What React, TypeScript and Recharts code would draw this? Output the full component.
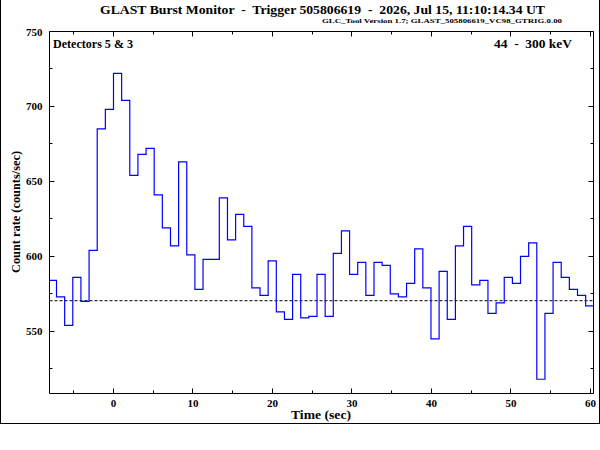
import React from "react";
import { Line, LineChart, ReferenceLine, XAxis, YAxis } from "recharts";

// bin edges in seconds (1.024 s bins), last one closes the final bin
const binEdges = [
  -8.192, -7.168, -6.144, -5.12, -4.096, -3.072, -2.048, -1.024, 0, 1.024,
  2.048, 3.072, 4.096, 5.12, 6.144, 7.168, 8.192, 9.216, 10.24, 11.264,
  12.288, 13.312, 14.336, 15.36, 16.384, 17.408, 18.432, 19.456, 20.48,
  21.504, 22.528, 23.552, 24.576, 25.6, 26.624, 27.648, 28.672, 29.696,
  30.72, 31.744, 32.768, 33.792, 34.816, 35.84, 36.864, 37.888, 38.912,
  39.936, 40.96, 41.984, 43.008, 44.032, 45.056, 46.08, 47.104, 48.128,
  49.152, 50.176, 51.2, 52.224, 53.248, 54.272, 55.296, 56.32, 57.344,
  58.368, 59.392, 60.416,
];

// count rate per bin (counts/sec)
const countRate = [
  584, 573, 554, 586, 570, 604, 685, 698, 722, 704, 654, 668, 672, 641, 619,
  607, 663, 601, 578, 598, 598, 639, 611, 628, 620, 579, 574, 597, 563, 558,
  588, 559, 560, 588, 560, 602, 617, 588, 596, 574, 596, 594, 575, 573, 582,
  605, 579, 545, 590, 558, 607, 620, 581, 584, 562, 569, 586, 582, 600, 609,
  518, 562, 596, 586, 578, 574, 567,
];

const background = 570.4;

const xTicks = [-5, 0, 5, 10, 15, 20, 25, 30, 35, 40, 45, 50, 55, 60];
const yTicks = [525, 550, 575, 600, 625, 650, 675, 700, 725, 750];

const rows = binEdges.map((t, i) => ({
  t,
  rate: countRate[Math.min(i, countRate.length - 1)],
}));

const FONT = "'Liberation Serif', 'DejaVu Serif', serif";

const px = (v: number) => Math.round(v - 0.5) + 0.5;

const BottomTick = (props: any) => {
  const { x, y, payload } = props;
  const major = payload.value % 10 === 0;
  const cx = px(x);
  return (
    <g>
      <line x1={cx} x2={cx} y1={y} y2={y - (major ? 5 : 3)} stroke="#000" />
      {major && (
        <text x={x} y={y + 13} textAnchor="middle" fontFamily={FONT} fontWeight="bold" fontSize={11} fill="#000">
          {payload.value}
        </text>
      )}
    </g>
  );
};

const TopTick = (props: any) => {
  const { x, y, payload } = props;
  const major = payload.value % 10 === 0;
  const cx = px(x);
  return <line x1={cx} x2={cx} y1={y} y2={y + (major ? 5 : 3)} stroke="#000" />;
};

const LeftTick = (props: any) => {
  const { x, y, payload } = props;
  const major = payload.value % 50 === 0;
  const cy = px(y);
  return (
    <g>
      <line x1={x} x2={x + (major ? 5 : 3)} y1={cy} y2={cy} stroke="#000" />
      {major && (
        <text x={x - 7} y={y + 4} textAnchor="end" fontFamily={FONT} fontWeight="bold" fontSize={11} fill="#000">
          {payload.value}
        </text>
      )}
    </g>
  );
};

const RightTick = (props: any) => {
  const { x, y, payload } = props;
  const major = payload.value % 50 === 0;
  const cy = px(y);
  return <line x1={x} x2={x - (major ? 5 : 3)} y1={cy} y2={cy} stroke="#000" />;
};

export default function App() {
  const axisLine = { stroke: "#000", strokeWidth: 1 };
  return (
    <div style={{ position: "absolute", left: 0, top: 0, width: 600, height: 450, background: "#fff" }}>
      <LineChart
        width={600}
        height={450}
        data={rows}
        margin={{ top: 30.5, right: 5.5, bottom: 26.5, left: 9.5 }}
      >
        <XAxis
          xAxisId="bottom"
          dataKey="t"
          type="number"
          domain={[-8.05, 60.38]}
          allowDataOverflow
          ticks={xTicks}
          interval={0}
          height={30}
          tickLine={false}
          tickSize={0}
          tickMargin={0}
          axisLine={axisLine}
          tick={<BottomTick />}
        />
        <XAxis
          xAxisId="top"
          orientation="top"
          dataKey="t"
          type="number"
          domain={[-8.05, 60.38]}
          allowDataOverflow
          ticks={xTicks}
          interval={0}
          height={1}
          tickLine={false}
          tickSize={0}
          tickMargin={0}
          axisLine={axisLine}
          tick={<TopTick />}
        />
        <YAxis
          yAxisId="left"
          type="number"
          domain={[508.5, 750]}
          allowDataOverflow
          ticks={yTicks}
          interval={0}
          width={40}
          tickLine={false}
          tickSize={0}
          tickMargin={0}
          axisLine={axisLine}
          tick={<LeftTick />}
        />
        <YAxis
          yAxisId="right"
          orientation="right"
          type="number"
          domain={[508.5, 750]}
          allowDataOverflow
          ticks={yTicks}
          interval={0}
          width={1}
          tickLine={false}
          tickSize={0}
          tickMargin={0}
          axisLine={axisLine}
          tick={<RightTick />}
        />
        <ReferenceLine
          xAxisId="bottom"
          yAxisId="left"
          y={background}
          stroke="#000"
          strokeWidth={1}
          strokeDasharray="3 2"
        />
        <Line
          xAxisId="bottom"
          yAxisId="left"
          dataKey="rate"
          type="stepAfter"
          stroke="#0000ff"
          strokeWidth={1.2}
          dot={false}
          activeDot={false}
          isAnimationActive={false}
        />
      </LineChart>
      <svg
        width={600}
        height={450}
        style={{ position: "absolute", left: 0, top: 0, pointerEvents: "none" }}
        fontFamily={FONT}
        fontWeight="bold"
      >
        <line x1={0.5} x2={0.5} y1={0} y2={424} stroke="#000" />
        <line x1={599.5} x2={599.5} y1={0} y2={424} stroke="#000" />
        <line x1={0} x2={600} y1={423.5} y2={423.5} stroke="#000" />
        <text x={100} y={14} fontSize={12.5} xmlSpace="preserve" textLength={445} lengthAdjust="spacingAndGlyphs">
          GLAST Burst Monitor  -  Trigger 505806619  -  2026, Jul 15, 11:10:14.34 UT
        </text>
        <text x={322} y={23} fontSize={7} textLength={240} lengthAdjust="spacingAndGlyphs">
          GLC_Tool Version 1.7; GLAST_505806619_VC98_GTRIG.0.00
        </text>
        <text x={53} y={48} fontSize={12} textLength={80} lengthAdjust="spacingAndGlyphs">
          Detectors 5 &amp; 3
        </text>
        <text x={494} y={48} fontSize={12} xmlSpace="preserve" textLength={78} lengthAdjust="spacingAndGlyphs">
          44  -  300 keV
        </text>
        <text x={321} y={419} fontSize={12} textAnchor="middle" textLength={60} lengthAdjust="spacingAndGlyphs">
          Time (sec)
        </text>
        <text transform="translate(20,212) rotate(-90)" fontSize={12} textAnchor="middle" textLength={122} lengthAdjust="spacingAndGlyphs">
          Count rate (counts/sec)
        </text>
      </svg>
    </div>
  );
}
